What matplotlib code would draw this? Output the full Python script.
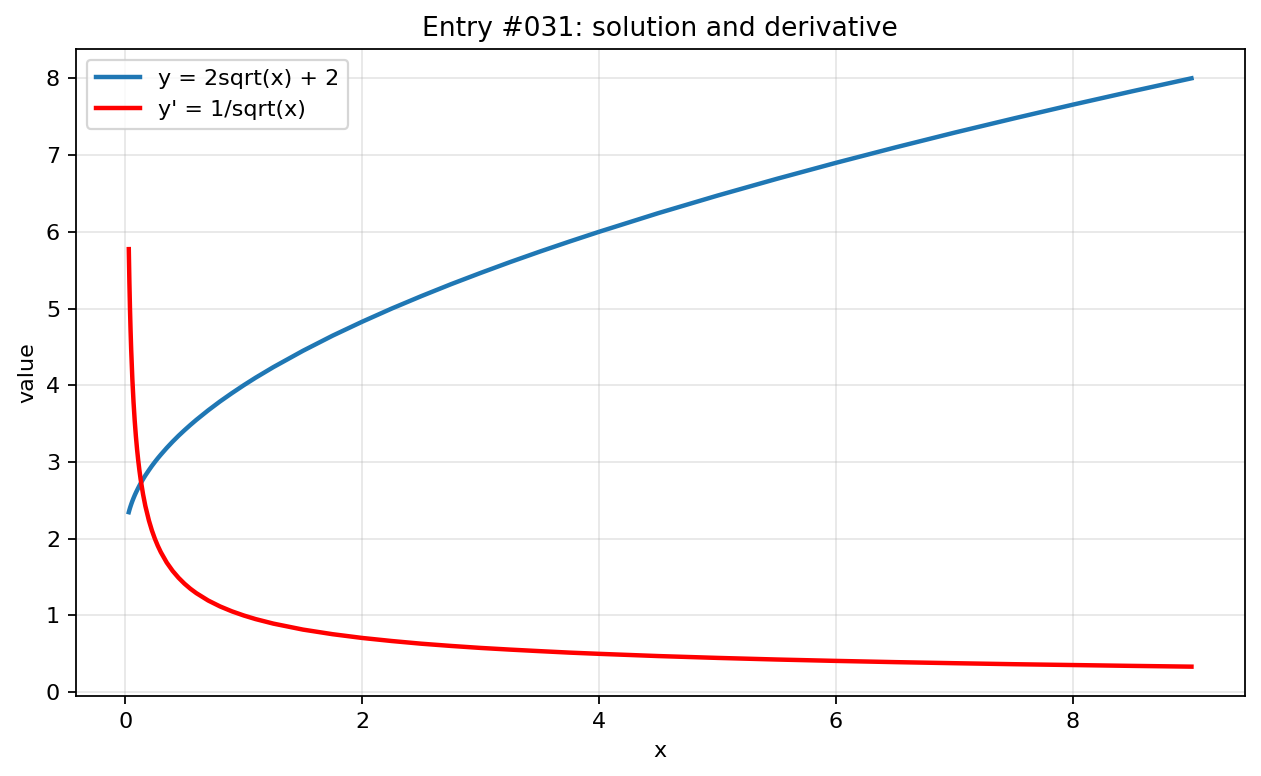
import matplotlib
matplotlib.use("Agg")
import matplotlib.pyplot as plt

# sample points
x_vals = [0.03, 0.035, 0.04, 0.045, 0.05, 0.06, 0.07, 0.08, 0.09, 0.1, 0.11,
          0.12, 0.13, 0.15, 0.17, 0.2, 0.225, 0.25, 0.275, 0.3, 0.35, 0.4,
          0.45, 0.5, 0.55, 0.6, 0.7, 0.8, 0.9, 1.0, 1.1, 1.25, 1.5, 1.75,
          2.0, 2.25, 2.5, 2.75, 3.0, 3.25, 3.5, 3.75, 4.0, 4.5, 5.0, 5.5,
          6.0, 6.5, 7.0, 7.5, 8.0, 8.5, 9.0]
y_vals = [2.346, 2.374, 2.400, 2.424, 2.447, 2.490, 2.529, 2.566, 2.600, 2.632,
          2.663, 2.693, 2.721, 2.775, 2.825, 2.894, 2.949, 3.000, 3.049, 3.095,
          3.183, 3.265, 3.342, 3.414, 3.483, 3.549, 3.673, 3.789, 3.897, 4.000,
          4.098, 4.236, 4.449, 4.646, 4.828, 5.000, 5.162, 5.317, 5.464, 5.606,
          5.742, 5.873, 6.000, 6.243, 6.472, 6.690, 6.899, 7.099, 7.292, 7.477,
          7.657, 7.831, 8.000]
dy_vals = [5.774, 5.345, 5.000, 4.714, 4.472, 4.082, 3.780, 3.536, 3.333, 3.162,
           3.015, 2.887, 2.774, 2.582, 2.425, 2.236, 2.108, 2.000, 1.907, 1.826,
           1.690, 1.581, 1.491, 1.414, 1.348, 1.291, 1.195, 1.118, 1.054, 1.000,
           0.953, 0.894, 0.816, 0.756, 0.707, 0.667, 0.632, 0.603, 0.577, 0.555,
           0.535, 0.516, 0.500, 0.471, 0.447, 0.426, 0.408, 0.392, 0.378, 0.365,
           0.354, 0.343, 0.333]

fig, ax = plt.subplots(figsize=(1261 / 160, 776 / 160), dpi=160)
fig.subplots_adjust(left=0.060, right=0.987, top=0.937, bottom=0.103)

ax.plot(x_vals, y_vals, color="#1f77b4", lw=2, solid_joinstyle="round",
        label="y = 2sqrt(x) + 2")
ax.plot(x_vals, dy_vals, color="red", lw=2, solid_joinstyle="round",
        label="y' = 1/sqrt(x)")

ax.set_title("Entry #031: solution and derivative")
ax.set_xlabel("x")
ax.set_ylabel("value")
ax.grid(True, alpha=0.3)
ax.legend(loc="upper left")

fig.savefig("out.png", dpi=160)
